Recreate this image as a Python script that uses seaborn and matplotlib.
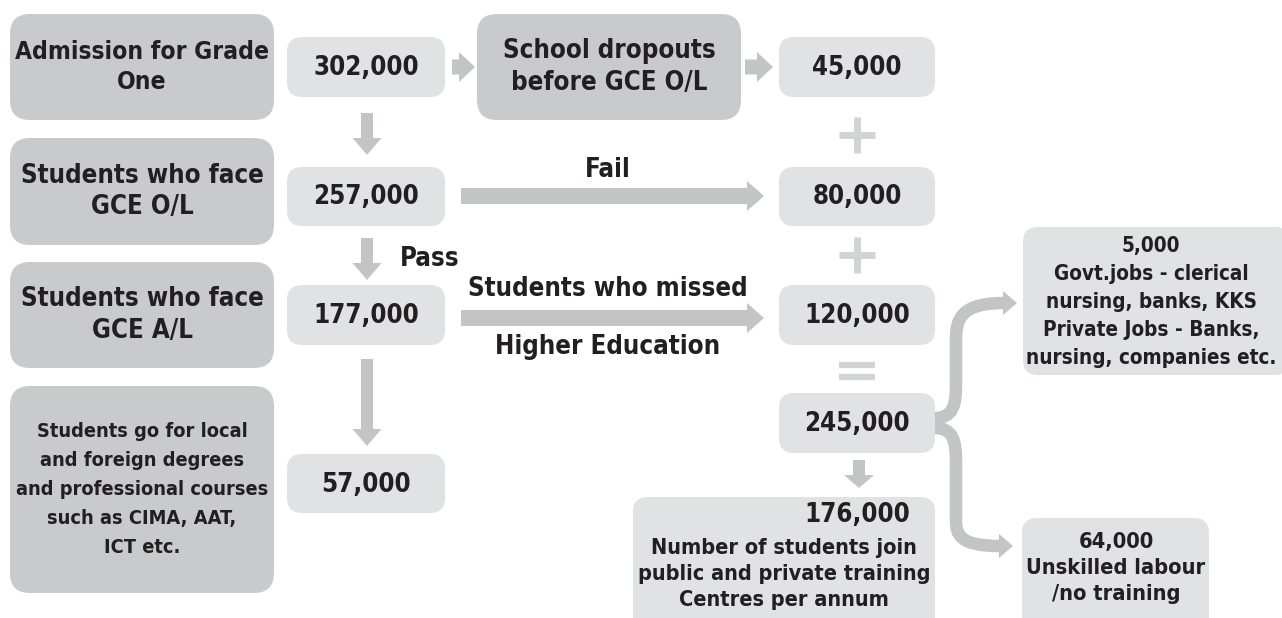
import matplotlib
matplotlib.use("Agg")
import matplotlib.pyplot as plt
import seaborn as sns
from matplotlib import font_manager
from matplotlib.patches import FancyBboxPatch, FancyArrow, Polygon, PathPatch
from matplotlib.path import Path

# ---- chart content ----
stage_labels = [
    "Admission for Grade\nOne",
    "Students who face\nGCE O/L",
    "Students who face\nGCE A/L",
    "Students go for local\nand foreign degrees\nand professional courses\nsuch as CIMA, AAT,\nICT etc.",
]
stage_counts = ["302,000", "257,000", "177,000", "57,000"]
dropout_label = "School dropouts\nbefore GCE O/L"
missed_counts = ["45,000", "80,000", "120,000", "245,000"]
missed_signs = ["+", "+", "="]
flow_labels = ["Pass", "Fail", "Students who missed", "Higher Education"]
training_count = "176,000"
training_label = "Number of students join\npublic and private training\nCentres per annum"
jobs_label = "5,000\nGovt.jobs - clerical\nnursing, banks, KKS\nPrivate Jobs - Banks,\nnursing, companies etc."
unskilled_label = "64,000\nUnskilled labour\n/no training"

# ---- style ----
sns.set_theme(style="white")

# the original uses a bold condensed face; take one if the system has it
narrow = [f for f in font_manager.fontManager.ttflist
          if ("narrow" in f.name.lower() or "condensed" in f.name.lower()
              or f.stretch in ("condensed", "semi-condensed", 500, 600))
          and (f.weight in ("bold", "heavy") or (isinstance(f.weight, int) and f.weight >= 600))]
if narrow:
    plt.rcParams["font.family"] = [narrow[0].name, "DejaVu Sans"]
    plt.rcParams["font.stretch"] = narrow[0].stretch
else:
    plt.rcParams["font.family"] = ["Roboto", "DejaVu Sans"]

DARK = "#c9cacc"
LIGHT = "#e1e2e4"
ARROW = "#c3c4c6"
SIGN = "#d2d3d5"
INK = "#231f20"
FS = 18.5

fig = plt.figure(figsize=(12.82, 6.18), dpi=100)
ax = fig.add_axes([0, 0, 1, 1])
ax.set_xlim(0, 1282)
ax.set_ylim(618, 0)
ax.axis("off")
renderer = fig.canvas.get_renderer()


def box(x0, y0, x1, y1, color, r=15):
    ax.add_patch(FancyBboxPatch((x0, y0), x1 - x0, y1 - y0,
                                boxstyle=f"round,pad=0,rounding_size={r}",
                                fc=color, ec="none"))


def label(x, y, s, fs=FS, ls=1.28, ha="center", maxw=None):
    t = ax.text(x, y, s, ha=ha, va="center", multialignment="center",
                fontsize=fs, color=INK, fontweight="bold", linespacing=ls)
    if maxw is not None:
        w = t.get_window_extent(renderer).width
        if w > maxw:
            k = maxw / w
            # shrink to fit the box but keep the line pitch of the original
            t.set_fontsize(fs * k)
            t.set_linespacing(ls / k)
    return t


def down_arrow(xc, y0, y1, shaft=12, head_w=29, head_len=17):
    ax.add_patch(FancyArrow(xc, y0, 0, y1 - y0, width=shaft, head_width=head_w,
                            head_length=head_len, length_includes_head=True,
                            fc=ARROW, ec="none"))


def right_arrow(x0, x1, yc, shaft=16, head_w=30, head_len=16):
    ax.add_patch(FancyArrow(x0, yc, x1 - x0, 0, width=shaft, head_width=head_w,
                            head_length=head_len, length_includes_head=True,
                            fc=ARROW, ec="none"))


# left column of stages
stage_rows = [(14, 120), (138, 245), (262, 368), (386, 593)]
for (y0, y1), s in zip(stage_rows, stage_labels):
    box(10, y0, 274, y1, DARK, r=20)
    label(142, (y0 + y1) / 2, s, maxw=254)

# counts next to the stages
count_rows = [(37, 97), (167, 226), (285, 345), (454, 513)]
for (y0, y1), s in zip(count_rows, stage_counts):
    box(287, y0, 445, y1, LIGHT)
    label(366, (y0 + y1) / 2 + 1, s)

down_arrow(367, 113, 155)
down_arrow(367, 238, 280)
down_arrow(367, 359, 446)
label(400, 259, flow_labels[0], ha="left")

# dropout branch
right_arrow(452, 475, 67, shaft=15, head_w=30, head_len=16)
box(477, 14, 741, 120, DARK, r=20)
label(609, 67, dropout_label, maxw=250)
right_arrow(745, 773, 67, shaft=15, head_w=30, head_len=16)

# column of students who missed higher education
missed_rows = [(37, 97), (167, 226), (285, 345), (393, 453)]
for (y0, y1), s in zip(missed_rows, missed_counts):
    box(779, y0, 935, y1, LIGHT)
    label(857, (y0 + y1) / 2 + 1, s)

sign_centres = [135, 255, 371]
for yc, s in zip(sign_centres, missed_signs):
    if s == "+":
        ax.plot([839, 875], [yc, yc], color=SIGN, lw=5, solid_capstyle="butt")
        ax.plot([857, 857], [yc - 18, yc + 18], color=SIGN, lw=5, solid_capstyle="butt")
    else:
        ax.plot([839, 875], [yc - 6, yc - 6], color=SIGN, lw=4.5, solid_capstyle="butt")
        ax.plot([839, 875], [yc + 6, yc + 6], color=SIGN, lw=4.5, solid_capstyle="butt")

# fail / missed arrows
right_arrow(461, 764, 196, shaft=16, head_w=30, head_len=17)
label(608, 170, flow_labels[1])
right_arrow(461, 764, 318, shaft=16, head_w=30, head_len=17)
label(608, 289, flow_labels[2], maxw=300)
label(608, 347, flow_labels[3], maxw=300)

# training centres
down_arrow(859, 460, 488, shaft=12, head_w=30, head_len=13)
box(633, 497, 935, 640, LIGHT)
label(857, 515, training_count)
label(784, 574, training_label, ls=1.18, maxw=294)

# job outcomes
box(1023, 227, 1290, 375, LIGHT)
label(1151, 302, jobs_label, ls=1.2, maxw=252)
box(1022, 518, 1209, 640, LIGHT)
label(1116, 568, unskilled_label, ls=1.18, maxw=180)

# curved branches out of 245,000
up_path = Path([(935, 418), (953, 418), (956, 405), (956, 385),
                (956, 340), (956, 320), (960, 303), (1004, 303)],
               [Path.MOVETO, Path.CURVE4, Path.CURVE4, Path.CURVE4,
                Path.LINETO, Path.CURVE4, Path.CURVE4, Path.CURVE4])
low_path = Path([(935, 428), (953, 428), (956, 441), (956, 461),
                 (956, 520), (956, 535), (960, 546), (1000, 546)],
                [Path.MOVETO, Path.CURVE4, Path.CURVE4, Path.CURVE4,
                 Path.LINETO, Path.CURVE4, Path.CURVE4, Path.CURVE4])
for p in (up_path, low_path):
    ax.add_patch(PathPatch(p, fc="none", ec=ARROW, lw=9, capstyle="butt"))
ax.add_patch(Polygon([(1003, 291), (1017, 303), (1003, 315)], fc=ARROW, ec="none"))
ax.add_patch(Polygon([(999, 534), (1013, 546), (999, 558)], fc=ARROW, ec="none"))

fig.savefig("out.png", dpi=100)
